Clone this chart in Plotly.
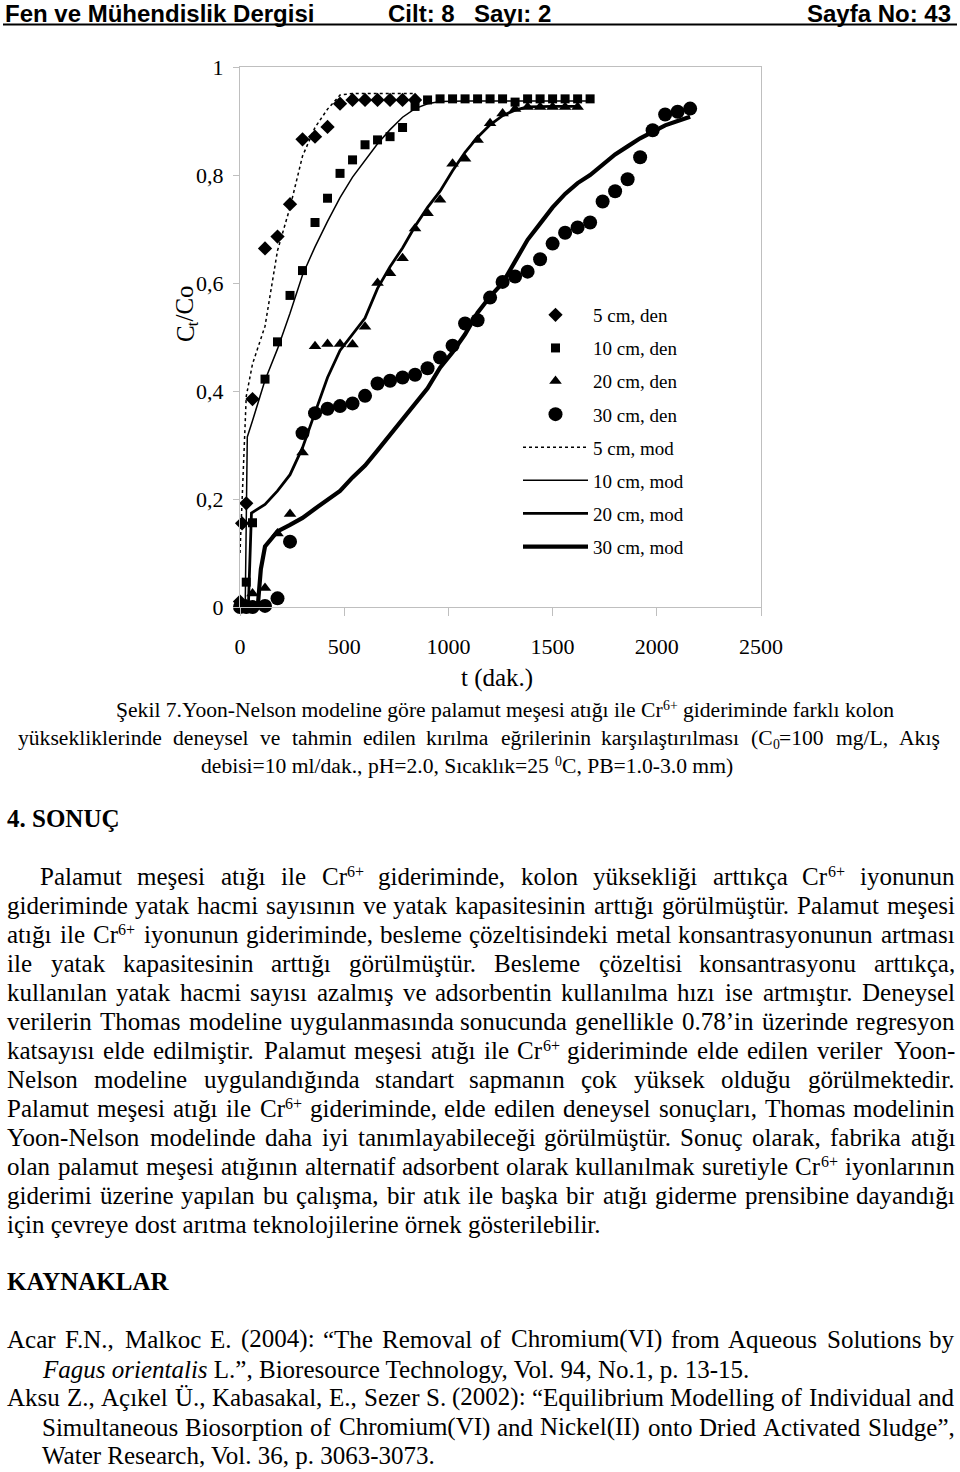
import re
import plotly.graph_objects as go

W, H = 960, 1472
SERIF = "Liberation Serif, Times New Roman, serif"
SANS = "Liberation Sans, Arial, sans-serif"

# ---------------- chart data ----------------
t5_den = [0, 10, 30, 60, 120, 180, 240, 300, 360, 420, 480, 540, 600, 660, 720, 780, 840]
v5_den = [0.01, 0.155, 0.192, 0.385, 0.664, 0.686, 0.746, 0.866, 0.871, 0.889, 0.932, 0.939,
          0.939, 0.939, 0.939, 0.939, 0.939]

t10_den = [0, 30, 60, 120, 180, 240, 300, 360, 420, 480, 540, 600, 660, 720, 780, 840, 900, 960,
           1020, 1080, 1140, 1200, 1260, 1320, 1380, 1440, 1500, 1560, 1620, 1680]
v10_den = [0, 0.046, 0.156, 0.422, 0.491, 0.577, 0.623, 0.712, 0.757, 0.803, 0.828, 0.856, 0.865,
           0.871, 0.888, 0.927, 0.939, 0.941, 0.941, 0.941, 0.941, 0.941, 0.941, 0.935, 0.941,
           0.941, 0.941, 0.941, 0.941, 0.941]

t20_den = [0, 30, 60, 120, 180, 240, 300, 360, 420, 480, 540, 600, 660, 720, 780, 840, 900, 960,
           1020, 1080, 1140, 1200, 1260, 1320, 1380, 1440, 1500, 1560, 1620]
v20_den = [0, 0.005, 0.025, 0.035, 0.136, 0.172, 0.286, 0.483, 0.487, 0.487, 0.486, 0.519, 0.600,
           0.618, 0.646, 0.701, 0.729, 0.754, 0.821, 0.830, 0.865, 0.896, 0.914, 0.922, 0.926,
           0.926, 0.926, 0.926, 0.926]

t30_den = [0, 30, 60, 120, 180, 240, 300, 360, 420, 480, 540, 600, 660, 720, 780, 840, 900, 960,
           1020, 1080, 1140, 1200, 1260, 1320, 1380, 1440, 1500, 1560, 1620, 1680, 1740, 1800,
           1860, 1920, 1980, 2040, 2100, 2160]
v30_den = [0, 0, 0, 0.002, 0.016, 0.121, 0.322, 0.359, 0.367, 0.372, 0.377, 0.391, 0.414, 0.419,
           0.425, 0.430, 0.442, 0.462, 0.484, 0.525, 0.531, 0.573, 0.602, 0.612, 0.621, 0.644,
           0.673, 0.693, 0.703, 0.712, 0.751, 0.770, 0.792, 0.833, 0.883, 0.912, 0.917, 0.923]

t5_mod = [0, 15, 30, 60, 120, 180, 240, 300, 360, 420, 480, 540, 600, 660, 720, 780, 840]
v5_mod = [0.10, 0.26, 0.39, 0.45, 0.52, 0.66, 0.74, 0.835, 0.888, 0.922, 0.948, 0.951, 0.951,
          0.951, 0.951, 0.951, 0.951]

t10_mod = [25, 35, 60, 120, 180, 240, 300, 360, 420, 480, 540, 600, 660, 720, 780, 840, 900, 960,
           1020, 1080, 1140, 1200, 1260, 1320, 1380, 1440, 1500, 1560, 1620, 1680]
v10_mod = [0, 0.315, 0.345, 0.42, 0.478, 0.544, 0.615, 0.667, 0.714, 0.758, 0.796, 0.828, 0.858,
           0.884, 0.907, 0.923, 0.932, 0.936, 0.937, 0.937, 0.937, 0.937, 0.937, 0.937, 0.937,
           0.937, 0.937, 0.937, 0.937, 0.937]

t20_mod = [40, 55, 120, 180, 240, 300, 360, 420, 480, 540, 600, 660, 720, 780, 840, 900, 960,
           1020, 1080, 1140, 1200, 1260, 1320, 1380, 1440, 1500, 1560, 1620]
v20_mod = [0, 0.174, 0.19, 0.215, 0.245, 0.295, 0.36, 0.425, 0.475, 0.505, 0.535, 0.59, 0.63,
           0.665, 0.705, 0.74, 0.77, 0.808, 0.842, 0.87, 0.893, 0.91, 0.92, 0.926, 0.927, 0.927,
           0.927, 0.927]

t30_mod = [85, 100, 120, 180, 240, 300, 360, 420, 480, 540, 600, 660, 720, 780, 840, 900, 960,
           1020, 1080, 1140, 1200, 1260, 1320, 1380, 1440, 1500, 1560, 1620, 1680, 1740, 1800,
           1860, 1920, 1980, 2040, 2100, 2160]
v30_mod = [0, 0.07, 0.112, 0.14, 0.152, 0.165, 0.182, 0.198, 0.215, 0.24, 0.262, 0.29, 0.318,
           0.346, 0.375, 0.405, 0.443, 0.472, 0.505, 0.545, 0.575, 0.6, 0.64, 0.68, 0.71, 0.74,
           0.765, 0.785, 0.8, 0.82, 0.838, 0.853, 0.868, 0.88, 0.892, 0.9, 0.908]

x_ticks = [0, 500, 1000, 1500, 2000, 2500]
y_ticks = [0, 0.2, 0.4, 0.6, 0.8, 1.0]
y_ticktext = ["0", "0,2", "0,4", "0,6", "0,8", "1"]

den_names = ["5 cm, den", "10 cm, den", "20 cm, den", "30 cm, den"]
mod_names = ["5 cm, mod", "10 cm, mod", "20 cm, mod", "30 cm, mod"]

# ---------------- page text ----------------
header_left = "Fen ve Mühendislik Dergisi"
header_mid1 = "Cilt: 8"
header_mid2 = "Sayı: 2"
header_right = "Sayfa No: 43"

# caption lines 1 and 3 as (before, superscript, after)
caption_1 = ("Şekil 7.Yoon-Nelson modeline göre palamut meşesi atığı ile Cr", "6+",
             "gideriminde farklı kolon")
caption_2 = ("yüksekliklerinde deneysel ve tahmin edilen kırılma eğrilerinin "
             "karşılaştırılması (C<sub>0</sub>=100 mg/L, Akış")
caption_3 = ("debisi=10 ml/dak., pH=2.0, Sıcaklık=25", "0", "C, PB=1.0-3.0 mm)")
y_title = ("C", "t", "/Co")
x_title = "t (dak.)"

section_title = "4. SONUÇ"
para_lines = [
    "Palamut meşesi atığı ile Cr<sup>6+</sup> gideriminde, kolon yüksekliği arttıkça Cr<sup>6+</sup> iyonunun",
    "gideriminde yatak hacmi sayısının ve yatak kapasitesinin arttığı görülmüştür. Palamut meşesi",
    "atığı ile Cr<sup>6+</sup> iyonunun gideriminde, besleme çözeltisindeki metal konsantrasyonunun artması",
    "ile yatak kapasitesinin arttığı görülmüştür. Besleme çözeltisi konsantrasyonu arttıkça,",
    "kullanılan yatak hacmi sayısı azalmış ve adsorbentin kullanılma hızı ise artmıştır. Deneysel",
    "verilerin Thomas modeline uygulanmasında sonucunda genellikle 0.78’in üzerinde regresyon",
    "katsayısı elde edilmiştir. Palamut meşesi atığı ile Cr<sup>6+</sup> gideriminde elde edilen veriler Yoon-",
    "Nelson modeline uygulandığında standart sapmanın çok yüksek olduğu görülmektedir.",
    "Palamut meşesi atığı ile Cr<sup>6+</sup> gideriminde, elde edilen deneysel sonuçları, Thomas modelinin",
    "Yoon-Nelson modelinde daha iyi tanımlayabileceği görülmüştür. Sonuç olarak, fabrika atığı",
    "olan palamut meşesi atığının alternatif adsorbent olarak kullanılmak suretiyle Cr<sup>6+</sup> iyonlarının",
    "giderimi üzerine yapılan bu çalışma, bir atık ile başka bir atığı giderme prensibine dayandığı",
    "için çevreye dost arıtma teknolojilerine örnek gösterilebilir.",
]
refs_title = "KAYNAKLAR"
ref_lines = [
    "Acar F.N., Malkoc E. (2004): “The Removal of Chromium(VI) from Aqueous Solutions by",
    "<i>Fagus orientalis</i> L.”, Bioresource Technology, Vol. 94, No.1, p. 13-15.",
    "Aksu Z., Açıkel Ü., Kabasakal, E., Sezer S. (2002): “Equilibrium Modelling of Individual and",
    "Simultaneous Biosorption of Chromium(VI) and Nickel(II) onto Dried Activated Sludge”,",
    "Water Research, Vol. 36, p. 3063-3073.",
]

# ---------------- text metrics (Times widths / 1000 em) ----------------
TW = {' ': 250, '!': 333, '"': 408, '#': 500, '$': 500, '%': 833, '&': 778, "'": 180, '(': 333,
      ')': 333, '*': 500, '+': 564, ',': 250, '-': 333, '.': 250, '/': 278, ':': 278, ';': 278,
      '<': 564, '=': 564, '>': 564, '?': 444, '@': 921, '’': 333, '“': 444, '”': 444,
      'A': 722, 'B': 667, 'C': 667, 'D': 722, 'E': 611, 'F': 556, 'G': 722, 'H': 722, 'I': 333,
      'J': 389, 'K': 722, 'L': 611, 'M': 889, 'N': 722, 'O': 722, 'P': 556, 'Q': 722, 'R': 667,
      'S': 556, 'T': 611, 'U': 722, 'V': 722, 'W': 944, 'X': 722, 'Y': 722, 'Z': 611,
      'a': 444, 'b': 500, 'c': 444, 'd': 500, 'e': 444, 'f': 333, 'g': 500, 'h': 500, 'i': 278,
      'j': 278, 'k': 500, 'l': 278, 'm': 778, 'n': 500, 'o': 500, 'p': 500, 'q': 500, 'r': 333,
      's': 389, 't': 278, 'u': 500, 'v': 500, 'w': 722, 'x': 500, 'y': 500, 'z': 444, 'ı': 278}
for d in '0123456789':
    TW[d] = 500
MAPCH = {'ş': 's', 'Ş': 'S', 'ğ': 'g', 'Ğ': 'G', 'İ': 'I', 'ü': 'u', 'Ü': 'U', 'ç': 'c',
         'Ç': 'C', 'ö': 'o', 'Ö': 'O'}
K_RENDER = 0.99   # rendered advance vs nominal metrics
SCRIPT = 0.64     # relative size of super/subscripts


def plain_em(s):
    s = re.sub(r'<[^>]+>', '', s)
    return sum(TW.get(MAPCH.get(ch, ch), 500) for ch in s) / 1000.0


def text_em(s):
    total = 0.0
    for piece in re.split(r'(<sup>.*?</sup>|<sub>.*?</sub>)', s):
        scale = SCRIPT if (piece.startswith('<sup>') or piece.startswith('<sub>')) else 1.0
        total += plain_em(piece) * scale
    return total


def segments(word):
    out = []
    for piece in re.split(r'(<sup>.*?</sup>|<sub>.*?</sub>)', word):
        if not piece:
            continue
        if piece.startswith('<sup>'):
            out.append((piece[5:-6], 'sup'))
        elif piece.startswith('<sub>'):
            out.append((piece[5:-6], 'sub'))
        else:
            out.append((piece, 'n'))
    return out


annotations = []


def add_text(text, x_px, y_px, size, xanchor='left', yanchor='middle', family=SERIF, angle=0):
    annotations.append(dict(
        text=text, x=x_px / W, y=1 - y_px / H, xref='paper', yref='paper',
        xanchor=xanchor, yanchor=yanchor, showarrow=False, textangle=angle,
        borderpad=0, borderwidth=0,
        font=dict(family=family, size=size, color='black')))


def baseline_text(text, x_px, base_px, size, xanchor='left'):
    add_text(text, x_px, base_px + 0.216 * size, size, xanchor=xanchor, yanchor='bottom')


def seg_geom(kind, base, size):
    if kind == 'sup':
        return base - 0.33 * size, SCRIPT * size
    if kind == 'sub':
        return base + 0.18 * size, SCRIPT * size
    return base, size


def place_word(word, x, base, size, anchor='left'):
    segs = segments(word)
    if anchor == 'left':
        for text, kind in segs:
            b, fs = seg_geom(kind, base, size)
            baseline_text(text, x, b, fs, 'left')
            x += plain_em(text) * fs * K_RENDER
    else:
        for text, kind in reversed(segs):
            b, fs = seg_geom(kind, base, size)
            baseline_text(text, x, b, fs, 'right')
            x -= plain_em(text) * fs * K_RENDER


def justified(line, x0, x1, base_px, size):
    words = line.split(' ')
    widths = [text_em(w) * size * K_RENDER for w in words]
    n = len(words)
    gap = (x1 - x0 - sum(widths)) / (n - 1)
    half = n // 2
    x = x0
    for i in range(half):
        place_word(words[i], x, base_px, size, 'left')
        x += widths[i] + gap
    x = x1
    for i in range(n - 1, half - 1, -1):
        place_word(words[i], x, base_px, size, 'right')
        x -= widths[i] + gap


def centered_with_sup(parts, cx, base, size, space_before_sup):
    before, sup, after = parts
    sp = 0.25 * size * K_RENDER
    w_b = plain_em(before) * size * K_RENDER
    w_s = plain_em(sup) * SCRIPT * size * K_RENDER
    w_a = plain_em(after) * size * K_RENDER
    gap1 = sp if space_before_sup else 0.0
    gap2 = 0.0 if space_before_sup else sp
    total = w_b + gap1 + w_s + gap2 + w_a
    x_join = cx - total / 2 + w_b
    baseline_text(before, x_join, base, size, 'right')
    sb, sfs = seg_geom('sup', base, size)
    baseline_text(sup, x_join + gap1, sb, sfs, 'left')
    baseline_text(after, x_join + gap1 + w_s + gap2, base, size, 'left')


# header
HDR = 24
for txt, xp, anc in [(header_left, 5, 'left'), (header_mid1, 388, 'left'),
                     (header_mid2, 474, 'left'), (header_right, 951, 'right')]:
    add_text("<b>" + txt + "</b>", xp, 0.5, HDR, xanchor=anc, yanchor='top', family=SANS)

# caption
CAP = 21.6
centered_with_sup(caption_1, 506, 717, CAP, space_before_sup=False)
justified(caption_2, 18, 940, 745, CAP)
centered_with_sup(caption_3, 468, 773, CAP, space_before_sup=True)

BODY = 25
baseline_text("<b>" + section_title + "</b>", 7, 827, BODY)

para_bases = [885, 914, 943, 972, 1001, 1030, 1059, 1088, 1117, 1146, 1175, 1204, 1233]
for i, (line, b) in enumerate(zip(para_lines, para_bases)):
    if i == len(para_lines) - 1:
        baseline_text(line, 7, b, BODY)
    else:
        justified(line, 40 if i == 0 else 7, 955, b, BODY)

baseline_text("<b>" + refs_title + "</b>", 7, 1290, BODY)
ref_bases = [1348, 1378, 1406, 1436, 1464]
justified(ref_lines[0], 7, 955, ref_bases[0], BODY)
baseline_text(ref_lines[1], 42, ref_bases[1], BODY)
justified(ref_lines[2], 7, 955, ref_bases[2], BODY)
justified(ref_lines[3], 42, 955, ref_bases[3], BODY)
baseline_text(ref_lines[4], 42, ref_bases[4], BODY)

# axis titles
TT = 25
add_text(x_title, 497, 678, TT, xanchor='center')
# rotated y title, read bottom to top: C, subscript t, /Co
yc, ycx = 314, 185
w_c = plain_em(y_title[0]) * TT * K_RENDER
w_t = plain_em(y_title[1]) * SCRIPT * TT * K_RENDER
w_r = plain_em(y_title[2]) * TT * K_RENDER
y_bottom = yc + (w_c + w_t + w_r) / 2
add_text(y_title[0], ycx, y_bottom - w_c / 2, TT, xanchor='center', angle=-90)
sub_shift = 0.18 * TT + 0.3375 * (TT - SCRIPT * TT)
add_text(y_title[1], ycx + sub_shift, y_bottom - w_c - w_t / 2, SCRIPT * TT,
         xanchor='center', angle=-90)
add_text(y_title[2], ycx, y_bottom - w_c - w_t - w_r / 2, TT, xanchor='center', angle=-90)

# ---------------- figure ----------------
fig = go.Figure()
symbols = ["diamond", "square", "triangle-up", "circle"]
msizes = [11, 9, 11, 14]
den_data = [(t5_den, v5_den), (t10_den, v10_den), (t20_den, v20_den), (t30_den, v30_den)]
for k, ((tx, vy), name) in enumerate(zip(den_data, den_names)):
    fig.add_trace(go.Scatter(
        x=tx, y=vy, mode='markers', name=name, legendgroup=name, cliponaxis=False,
        marker=dict(symbol=symbols[k], size=msizes[k], color='black', line=dict(width=0))))

mod_data = [(t5_mod, v5_mod), (t10_mod, v10_mod), (t20_mod, v20_mod), (t30_mod, v30_mod)]
lwidths = [1.5, 1.5, 2.8, 4.2]
dashes = ["3px,3px", "solid", "solid", "solid"]
for k, ((tx, vy), name) in enumerate(zip(mod_data, mod_names)):
    fig.add_trace(go.Scatter(
        x=tx, y=vy, mode='lines', name=name, legendgroup=name, cliponaxis=False,
        line=dict(color='black', width=lwidths[k], dash=dashes[k])))

AX = '#bfbfbf'
fig.update_layout(
    width=W, height=H, autosize=False,
    margin=dict(l=0, r=0, t=0, b=0, pad=0, autoexpand=False),
    paper_bgcolor='white', plot_bgcolor='white',
    showlegend=True,
    legend=dict(x=518 / W, y=1 - 296 / H, xanchor='left', yanchor='top',
                bgcolor='rgba(0,0,0,0)', font=dict(family=SERIF, size=19, color='black'),
                tracegroupgap=5.4, itemwidth=65),
    xaxis=dict(domain=[240 / W, 761 / W], range=[0, 2500], tickvals=x_ticks, automargin=False,
               ticks='outside', ticklen=8, tickcolor=AX, showline=True, linecolor=AX,
               linewidth=1, mirror=True, showgrid=False, zeroline=False,
               tickfont=dict(family=SERIF, size=22, color='black'), ticklabelstandoff=12),
    yaxis=dict(domain=[1 - 607 / H, 1 - 67 / H], range=[0, 1], tickvals=y_ticks, automargin=False,
               ticktext=y_ticktext, ticks='outside', ticklen=6, tickcolor=AX, showline=True,
               linecolor=AX, linewidth=1, mirror=True, showgrid=False, zeroline=False,
               tickfont=dict(family=SERIF, size=22, color='black'), ticklabelstandoff=5),
    annotations=annotations,
    shapes=[dict(type='line', xref='paper', yref='paper', x0=3 / W, x1=957 / W,
                 y0=1 - 24.5 / H, y1=1 - 24.5 / H, line=dict(color='black', width=2))],
)

fig.write_html("out.html",
               post_script="document.body.style.margin='0';document.body.style.overflow='hidden';")
